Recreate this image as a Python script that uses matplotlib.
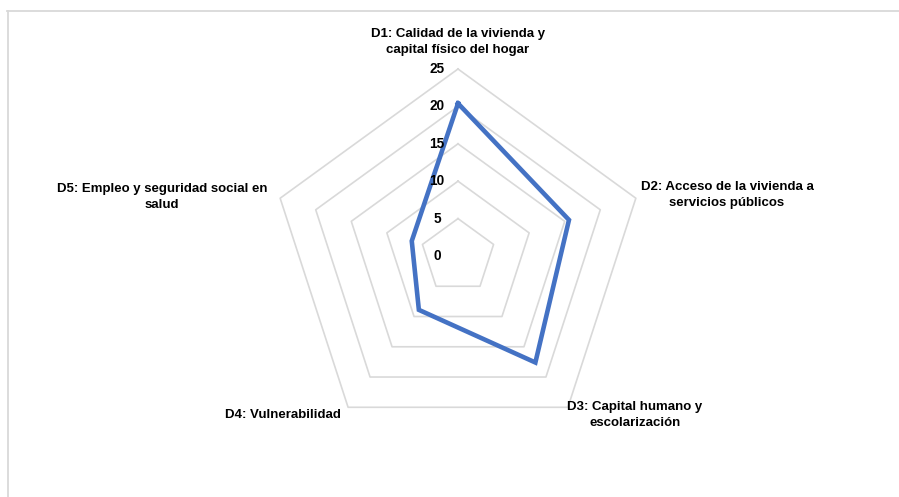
import numpy as np
import matplotlib
matplotlib.use('Agg')
import matplotlib.pyplot as plt
from matplotlib.lines import Line2D

# data
categories = ['D1: Calidad de la vivienda y\ncapital físico del hogar',
              'D2: Acceso de la vivienda a\nservicios públicos',
              'D3: Capital humano y\nescolarización',
              'D4: Vulnerabilidad',
              'D5: Empleo y seguridad social en\nsalud']
values = [20.4, 15.6, 17.6, 8.9, 6.5]
levels = [5, 10, 15, 20, 25]
tick_labels = ['0', '5', '10', '15', '20', '25']

LINE_COLOR = '#4472C4'
GRID_COLOR = '#D9D9D9'
TEXT_COLOR = '#000000'
FONT = ['Liberation Sans Narrow', 'Liberation Sans', 'DejaVu Sans']

W, H = 899, 497
CX, CY = 458, 256     # centre in pixels
PX = 7.48             # pixels per unit

fig = plt.figure(figsize=(W / 100, H / 100), dpi=100, facecolor='white')
ax = fig.add_axes([0, 0, 1, 1])
ax.set_xlim(-CX / PX, (W - CX) / PX)
ax.set_ylim(-(H - CY) / PX, CY / PX)
ax.axis('off')

n = len(categories)
ang = np.arange(n) * 2 * np.pi / n
closed = np.append(ang, ang[0])

# pentagon grid
for lv in levels:
    ax.plot(lv * np.sin(closed), lv * np.cos(closed),
            color=GRID_COLOR, lw=1.2, zorder=1)

# data series
v = np.append(values, values[0])
ax.plot(v * np.sin(closed), v * np.cos(closed), color=LINE_COLOR,
        lw=3.3, solid_joinstyle='miter', zorder=3)

# radial tick labels
for i, t in enumerate(tick_labels):
    ax.text(-2.8, i * 5, t, ha='center', va='center', fontsize=9.8,
            fontweight='bold', family=FONT, color=TEXT_COLOR, zorder=4)

# category labels (pixel positions)
label_pos = [(458, 42), (727, 195), (635, 415), (283, 415), (162, 197)]
for lab, (px, py) in zip(categories, label_pos):
    fig.text(px / W, 1 - py / H, lab, ha='center', va='center',
             fontsize=9.5, fontweight='bold', family=FONT,
             color=TEXT_COLOR, linespacing=1.55)

# chart area border (top and left visible)
fig.add_artist(Line2D([7 / W, 1], [1 - 11 / H, 1 - 11 / H],
                      color=GRID_COLOR, lw=1.3))
fig.add_artist(Line2D([8 / W, 8 / W], [0, 1 - 11 / H],
                      color=GRID_COLOR, lw=1.3))

fig.savefig('out.png', dpi=100, facecolor='white')
